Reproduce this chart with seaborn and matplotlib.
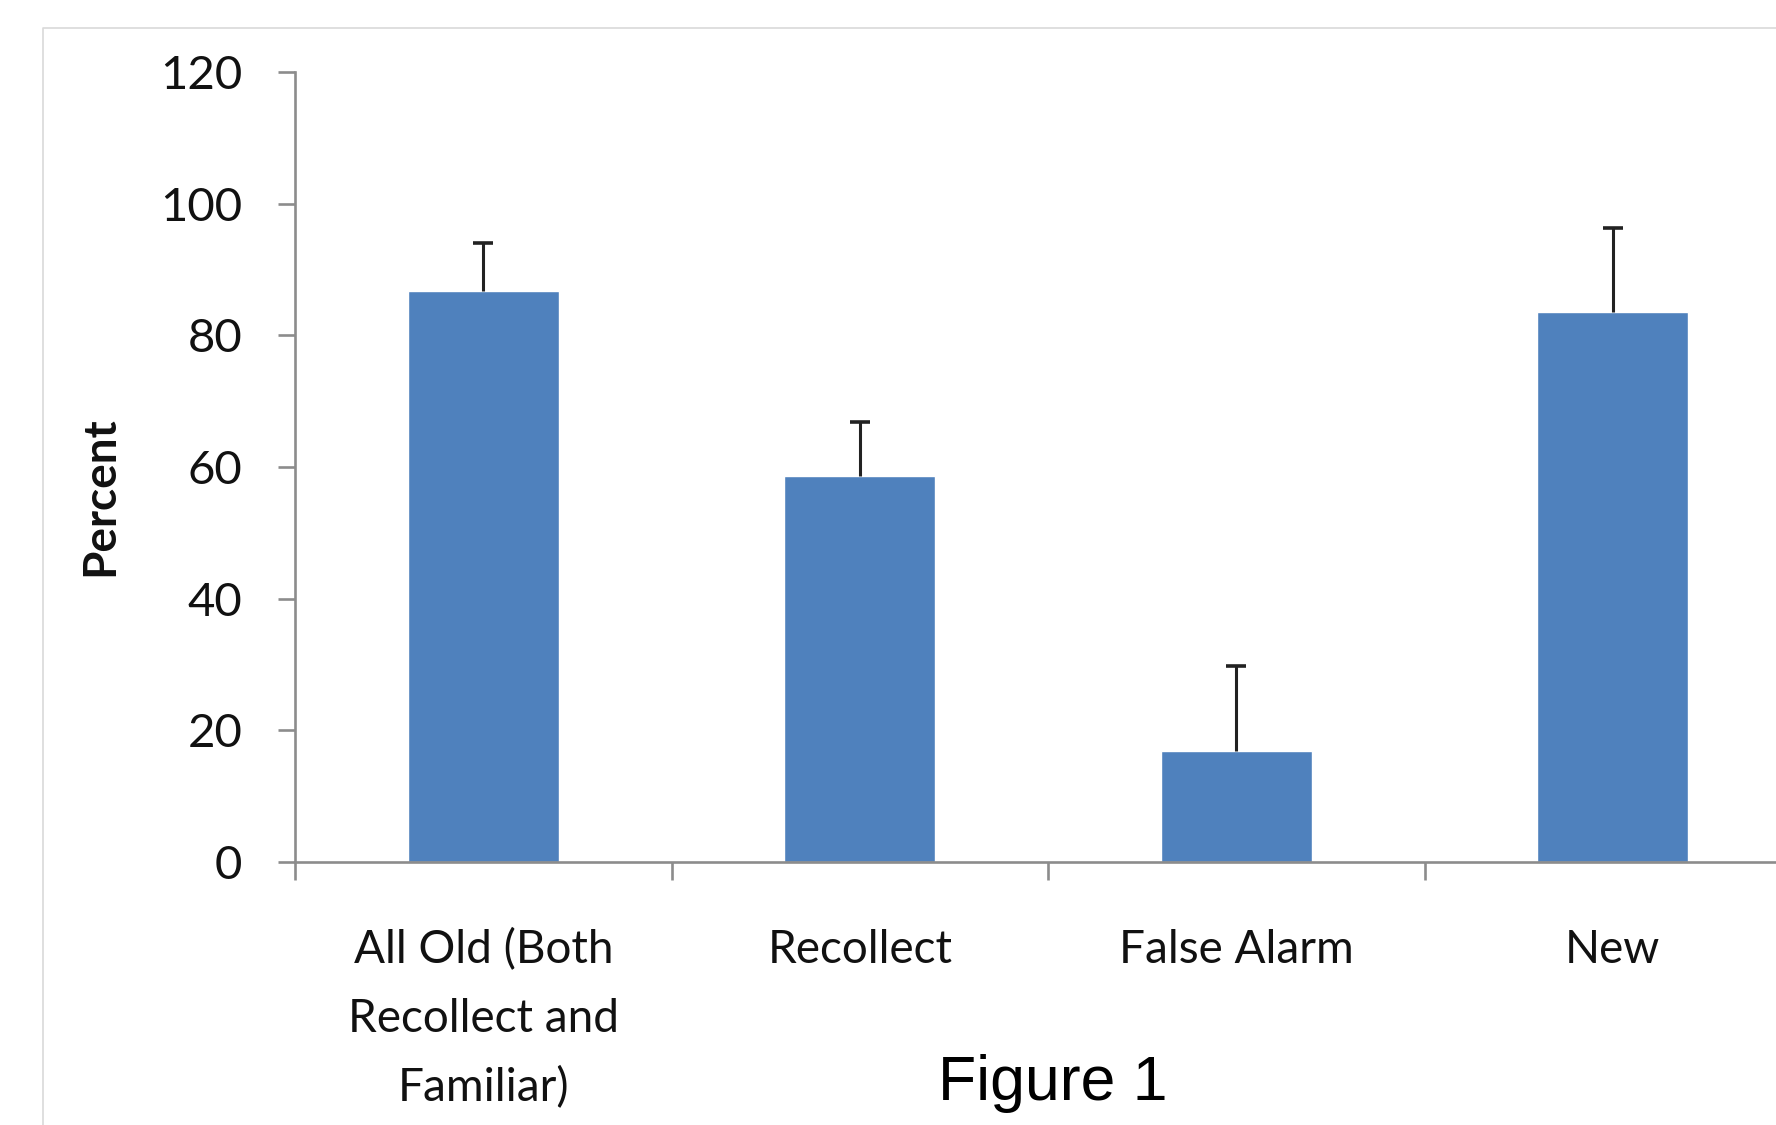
import matplotlib
matplotlib.use("Agg")
import matplotlib.pyplot as plt
import seaborn as sns
import numpy as np
import pandas as pd
from matplotlib.lines import Line2D

categories = ["All Old (Both\nRecollect and\nFamiliar)", "Recollect", "False Alarm", "New"]
percent = [86.7, 58.6, 16.8, 83.6]
error_up = [7.4, 8.2, 13.0, 12.7]
yticks = [0, 20, 40, 60, 80, 100, 120]

sns.set_theme(style="white")
plt.rcParams['font.family'] = ['Lato', 'DejaVu Sans']

df = pd.DataFrame({"category": categories, "percent": percent})

fig = plt.figure(figsize=(17.76, 11.25), dpi=100)
ax = fig.add_axes([295/1776, 263/1125, 1506/1776, 790/1125])

sns.barplot(data=df, x="category", y="percent", color="#4F81BD", width=0.4,
            errorbar=None, saturation=1, ax=ax, zorder=2)

x = np.arange(len(categories))
vals = np.array(percent)
errs = np.array(error_up)
ax.errorbar(x, vals, yerr=[np.zeros_like(errs), errs], fmt='none',
            ecolor='#222222', elinewidth=2.2, capsize=0, zorder=3)
ax.plot(x, vals + errs, ls='none', marker='_', ms=14, mew=2.6, color='#222222', zorder=3)

ax.set_ylim(0, 120)
ax.set_xlim(-0.5, 3.5)
ax.set_yticks(yticks)
ax.set_yticklabels([str(t) for t in yticks])
ax.set_xlabel("")
ax.set_ylabel("")

for s in ["top", "right"]:
    ax.spines[s].set_visible(False)
for s in ["left", "bottom"]:
    ax.spines[s].set_color("#8c8c8c")
    ax.spines[s].set_linewidth(1.9)

ax.tick_params(axis='y', which='major', direction='out', length=12, width=1.9,
               color="#8c8c8c", left=True, pad=26, labelsize=34, labelcolor="#111111")
ax.set_xticks(x)
ax.set_xticklabels(categories, fontsize=33, color="#111111", linespacing=1.76)
ax.tick_params(axis='x', which='major', length=0, pad=48)
ax.set_xticks([-0.5, 0.5, 1.5, 2.5, 3.5], minor=True)
ax.tick_params(axis='x', which='minor', direction='out', length=13, width=1.9,
               color="#8c8c8c", bottom=True)

fig.text(100/1776, 1 - 496/1125, "Percent", rotation=90, ha='center', va='center',
         fontsize=33, fontweight='bold', color="#111111")

fig.text(1053/1776, 1 - 1100/1125, "Figure 1", ha='center', va='baseline',
         fontsize=45, color="black", family=['Liberation Sans', 'DejaVu Sans'])

# light chart-area border
fig.add_artist(Line2D([43/1776, 43/1776, 1.0], [0.0, 1 - 28/1125, 1 - 28/1125],
                      transform=fig.transFigure, color="#d9d9d9", lw=1.2))

fig.savefig("out.png", dpi=100)
